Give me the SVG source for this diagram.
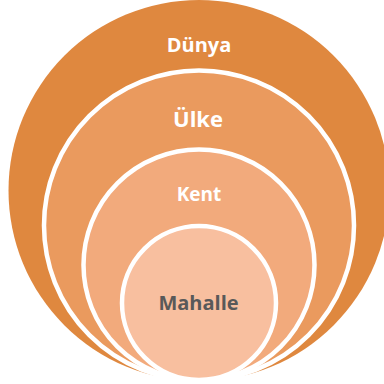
<svg xmlns="http://www.w3.org/2000/svg" width="384" height="384" viewBox="0 0 384 384">
<style>
.c{stroke:#fff;stroke-width:4.5}
.t{font-family:"Open Sans",sans-serif;font-weight:bold;text-anchor:middle}
.w{fill:#fff}
</style>
<rect width="384" height="384" fill="#fff"/>
<g id="dunya"><circle cx="199" cy="190.5" r="190.5" fill="#DF883F"/><text class="t w" x="199" y="52" font-size="20">Dünya</text></g>
<g id="ulke"><circle class="c" cx="199" cy="225.5" r="155" fill="#EA9A5E"/><text class="t w" x="198" y="127" font-size="22">Ülke</text></g>
<g id="kent"><circle class="c" cx="199" cy="265" r="115.5" fill="#F2AA7C"/><text class="t w" x="199" y="201" font-size="19">Kent</text></g>
<g id="mahalle"><circle class="c" cx="199" cy="303" r="77" fill="#F8BF9F"/><text class="t" x="198.5" y="310" font-size="20" fill="#595959">Mahalle</text></g>
<g id="connectors"/>
</svg>
